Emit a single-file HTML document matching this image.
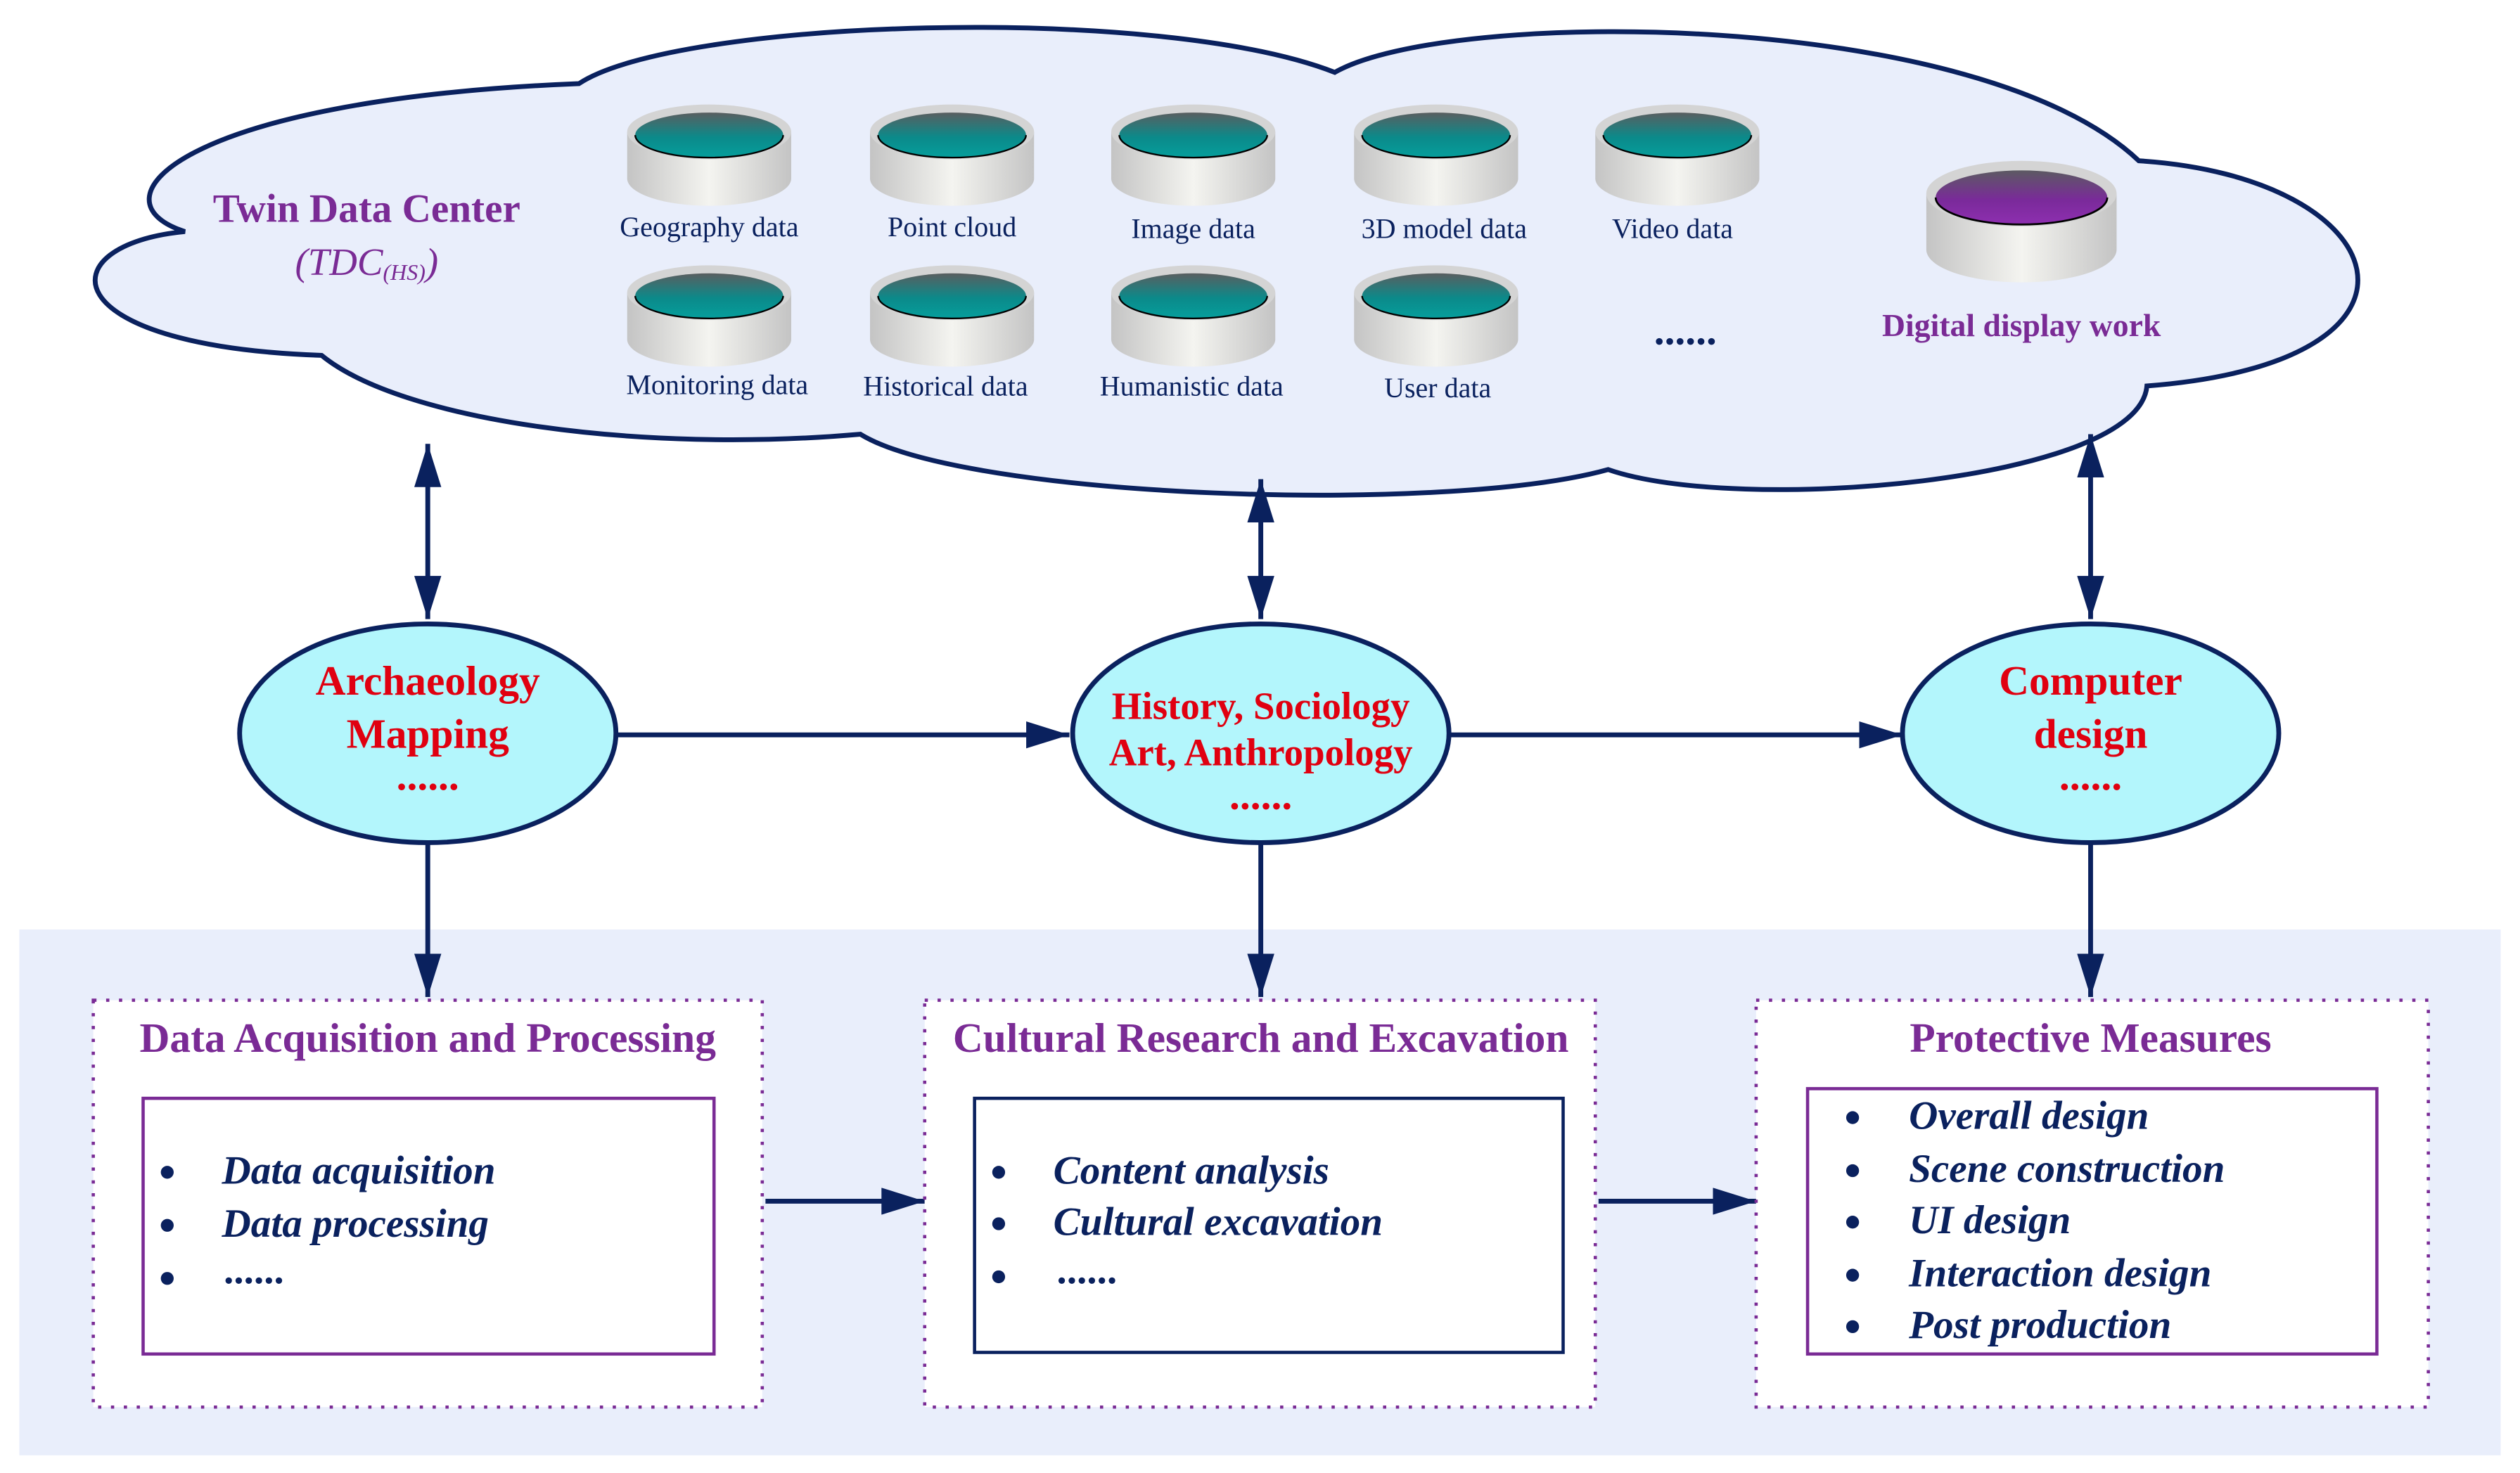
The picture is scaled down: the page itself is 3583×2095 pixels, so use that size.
<!DOCTYPE html>
<html><head><meta charset="utf-8"><style>html,body{margin:0;padding:0;background:#fff}svg{display:block}</style></head>
<body>
<svg width="3583" height="2095" viewBox="0 0 1567 916" preserveAspectRatio="none" xmlns="http://www.w3.org/2000/svg" font-family="'Liberation Serif', serif">
<defs>
<linearGradient id="side" x1="0" x2="1" y1="0" y2="0">
<stop offset="0" stop-color="#c4c4c4"/><stop offset="0.5" stop-color="#f4f4f0"/><stop offset="1" stop-color="#c4c4c4"/></linearGradient>
<linearGradient id="teal" x1="0" x2="0" y1="0" y2="1">
<stop offset="0" stop-color="#5a5e60"/><stop offset="0.55" stop-color="#0b8a8a"/><stop offset="1" stop-color="#069e9c"/></linearGradient>
<linearGradient id="purp" x1="0" x2="0" y1="0" y2="1">
<stop offset="0" stop-color="#5c5a62"/><stop offset="0.55" stop-color="#7a2a9a"/><stop offset="1" stop-color="#8e2fb0"/></linearGradient>
<g id="cyl">
<path d="M-51,17 L-51,46 A51,17 0 0 0 51,46 L51,17 Z" fill="url(#side)"/>
<ellipse cx="0" cy="17" rx="51" ry="17" fill="#d4d4d4"/>
<ellipse cx="0" cy="19" rx="46" ry="14" fill="url(#teal)"/>
<path d="M-46,19 A46,14 0 0 0 46,19" fill="none" stroke="#000" stroke-width="1"/>
</g>
<marker id="ah" viewBox="0 0 16 10" refX="16" refY="5" markerWidth="9" markerHeight="5.6" orient="auto-start-reverse" markerUnits="strokeWidth">
<path d="M0,0 L16,5 L0,10 Z" fill="#0a215e"/></marker>
</defs>

<rect x="12" y="578" width="1543" height="327" fill="#e9eefb"/>

<path d="M115,144 C55,125 110,62 360,52 C420,12 720,2 830,45 C900,5 1230,5 1330,100 C1490,110 1530,225 1335,240 C1330,300 1080,320 1000,292 C900,320 600,310 535,270 C400,282 250,262 200,221 C30,215 30,152 115,144 Z" fill="#e9eefb" stroke="#0a215e" stroke-width="3"/>

<text x="228" y="138" font-size="25" font-weight="bold" fill="#7a2b95" text-anchor="middle">Twin Data Center</text>
<text x="228" y="171" font-size="24" font-style="italic" fill="#7a2b95" text-anchor="middle">(TDC<tspan font-size="14" dy="3">(HS)</tspan><tspan dy="-3">)</tspan></text>

<use href="#cyl" x="441" y="65"/><use href="#cyl" x="592" y="65"/><use href="#cyl" x="742" y="65"/><use href="#cyl" x="893" y="65"/><use href="#cyl" x="1043" y="65"/>
<use href="#cyl" x="441" y="165"/><use href="#cyl" x="592" y="165"/><use href="#cyl" x="742" y="165"/><use href="#cyl" x="893" y="165"/>
<g font-size="17.5" fill="#0a215e" text-anchor="middle">
<text x="441" y="147">Geography data</text><text x="592" y="147">Point cloud</text><text x="742" y="148">Image data</text><text x="898" y="148">3D model data</text><text x="1040" y="148">Video data</text>
<text x="446" y="245">Monitoring data</text><text x="588" y="246">Historical data</text><text x="741" y="246">Humanistic data</text><text x="894" y="247">User data</text>
</g>
<text x="1048" y="214" font-size="26" font-weight="bold" fill="#0a215e" text-anchor="middle">......</text>

<g transform="translate(1257,100) scale(1.16,1.2)">
<path d="M-51,17 L-51,46 A51,17 0 0 0 51,46 L51,17 Z" fill="url(#side)"/>
<ellipse cx="0" cy="17" rx="51" ry="17" fill="#d4d4d4"/>
<ellipse cx="0" cy="19" rx="46" ry="14" fill="url(#purp)"/>
<path d="M-46,19 A46,14 0 0 0 46,19" fill="none" stroke="#000" stroke-width="1"/>
</g>
<text x="1257" y="209" font-size="20" font-weight="bold" fill="#7a2b95" text-anchor="middle">Digital display work</text>

<g stroke="#0a215e" stroke-width="3" fill="none">
<line x1="266" y1="276" x2="266" y2="385" marker-start="url(#ah)" marker-end="url(#ah)"/>
<line x1="784" y1="298" x2="784" y2="385" marker-start="url(#ah)" marker-end="url(#ah)"/>
<line x1="1300" y1="270" x2="1300" y2="385" marker-start="url(#ah)" marker-end="url(#ah)"/>
<line x1="384" y1="457" x2="665" y2="457" marker-end="url(#ah)"/>
<line x1="902" y1="457" x2="1183" y2="457" marker-end="url(#ah)"/>
<line x1="266" y1="525" x2="266" y2="620" marker-end="url(#ah)"/>
<line x1="784" y1="525" x2="784" y2="620" marker-end="url(#ah)"/>
<line x1="1300" y1="525" x2="1300" y2="620" marker-end="url(#ah)"/>
<line x1="476" y1="747" x2="575" y2="747" marker-end="url(#ah)"/>
<line x1="994" y1="747" x2="1092" y2="747" marker-end="url(#ah)"/>
</g>

<g fill="#b3f6fc" stroke="#0a215e" stroke-width="3">
<ellipse cx="266" cy="456" rx="117" ry="68"/><ellipse cx="784" cy="456" rx="117" ry="68"/><ellipse cx="1300" cy="456" rx="117" ry="68"/>
</g>
<g font-size="26" font-weight="bold" fill="#e00010" text-anchor="middle">
<text x="266" y="432">Archaeology</text><text x="266" y="465">Mapping</text><text x="266" y="491">......</text>
<text x="784" y="447" font-size="24">History, Sociology</text><text x="784" y="476" font-size="24">Art, Anthropology</text><text x="784" y="503">......</text>
<text x="1300" y="432">Computer</text><text x="1300" y="465">design</text><text x="1300" y="491">......</text>
</g>

<g fill="#fff" stroke="#7a2b95" stroke-width="2" stroke-dasharray="2,6">
<rect x="58" y="622" width="416" height="253"/><rect x="575" y="622" width="417" height="253"/><rect x="1092" y="622" width="418" height="253"/>
</g>
<rect x="89" y="683" width="355" height="159" fill="#fff" stroke="#7a2b95" stroke-width="2"/>
<rect x="606" y="683" width="366" height="158" fill="#fff" stroke="#0a215e" stroke-width="2"/>
<rect x="1124" y="677" width="354" height="165" fill="#fff" stroke="#7a2b95" stroke-width="2"/>

<g font-size="26" font-weight="bold" fill="#7a2b95" text-anchor="middle">
<text x="266" y="654">Data Acquisition and Processing</text>
<text x="784" y="654">Cultural Research and Excavation</text>
<text x="1300" y="654">Protective Measures</text>
</g>
<g font-size="25" font-style="italic" font-weight="bold" fill="#0a215e">
<text x="138" y="736">Data acquisition</text><text x="138" y="769">Data processing</text><text x="140" y="798">......</text>
<text x="655" y="736">Content analysis</text><text x="655" y="768">Cultural excavation</text><text x="658" y="798">......</text>
<text x="1187" y="702">Overall design</text><text x="1187" y="735">Scene construction</text><text x="1187" y="767">UI design</text><text x="1187" y="800">Interaction design</text><text x="1187" y="832">Post production</text>
</g>
<g fill="#0a215e">
<circle cx="104" cy="729" r="4"/><circle cx="104" cy="762" r="4"/><circle cx="104" cy="795" r="4"/>
<circle cx="621" cy="729" r="4"/><circle cx="621" cy="761" r="4"/><circle cx="621" cy="794" r="4"/>
<circle cx="1152" cy="695" r="4"/><circle cx="1152" cy="728" r="4"/><circle cx="1152" cy="760" r="4"/><circle cx="1152" cy="793" r="4"/><circle cx="1152" cy="825" r="4"/>
</g>
</svg>
</body></html>
